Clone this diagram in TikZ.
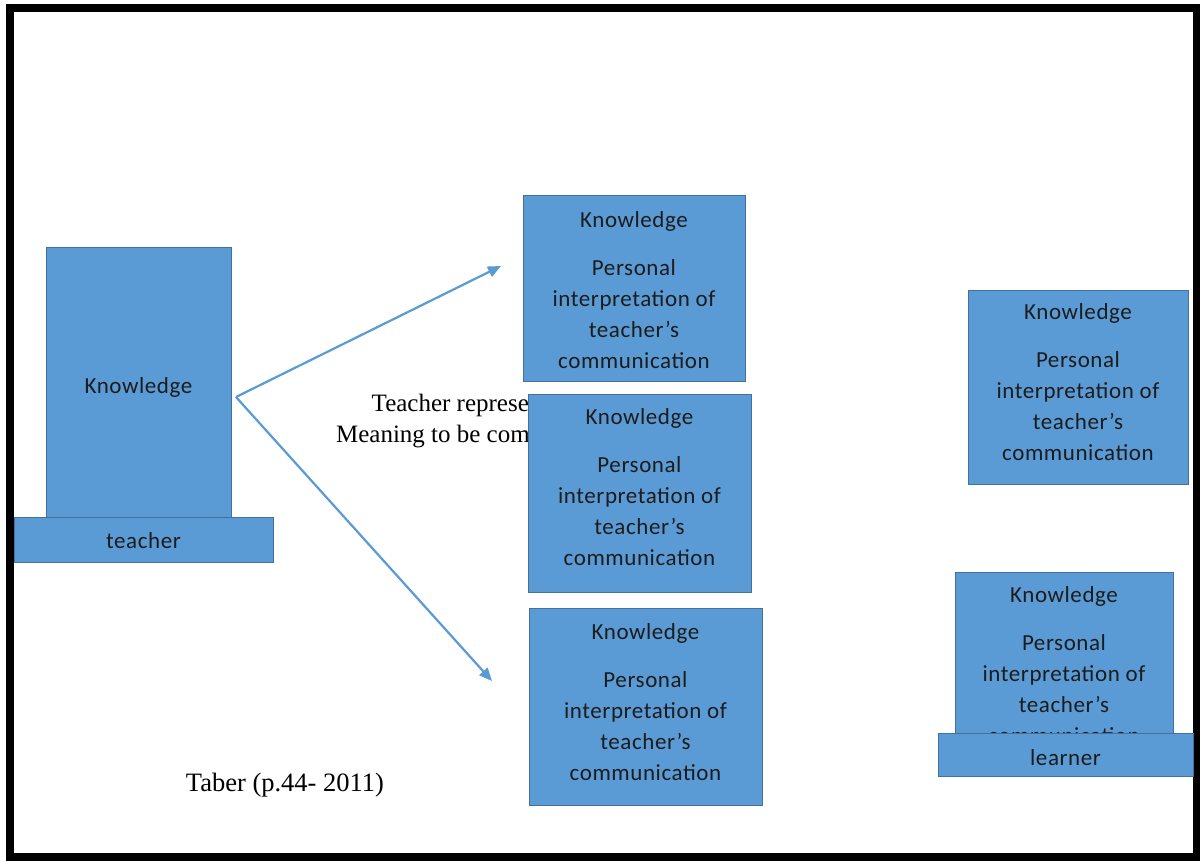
\documentclass[tikz,border=0pt]{standalone}
\usepackage{fontspec}
\setmainfont{Liberation Serif}
\newfontfamily\boxfont[LetterSpace=2.5]{Carlito}
\usetikzlibrary{arrows.meta}
\definecolor{boxblue}{HTML}{5B9BD5}
\definecolor{boxedge}{HTML}{41719C}
\definecolor{boxtext}{HTML}{1C1C1C}
\tikzset{
  bluebox/.style={draw=boxedge, line width=1pt, fill=boxblue, rectangle, inner sep=0pt},
  boxlabel/.style={inner sep=0pt, align=center, text=boxtext, font=\boxfont\fontsize{23}{31}\selectfont},
  flowarrow/.style={draw=boxblue, line width=2.2pt,
    -{Triangle[length=13pt,width=11pt]}},
  serifnote/.style={align=center, inner sep=0pt, font=\fontsize{25}{31}\selectfont, text=black}
}
\newcommand{\interp}{Knowledge\\[17pt]Personal\\interpretation of\\teacher’s\\communication}
\begin{document}
\begin{tikzpicture}[x=1pt,y=-1pt]
\useasboundingbox (0,0) rectangle (1200,860);
\fill[white] (0,0) rectangle (1200,860);
% frame
\draw[line width=8pt, black] (10,8) rectangle (1196.5,856.5);

% teacher
\node[bluebox, minimum width=185pt, minimum height=270pt] (tk) at (138.5,382) {};
\node[boxlabel] (tk-t) at (138.5,387) {Knowledge};
\node[bluebox, minimum width=259pt, minimum height=45pt] (tbase) at (143.5,539.5) {};
\node[boxlabel] (tbase-t) at (143.5,541) {teacher};

% occluded note
\node[serifnote] (note) at (485,421) {Teacher representation\\Meaning to be communicated};

% middle learners
\node[bluebox, minimum width=222pt, minimum height=186pt] (la) at (634,288) {};
\node[boxlabel, anchor=north] (la-t) at ([yshift=-16.5pt]la.north) {\interp};
\node[bluebox, minimum width=223pt, minimum height=198pt] (lb) at (639.5,493) {};
\node[boxlabel, anchor=north] (lb-t) at ([yshift=-15pt]lb.north) {\interp};
\node[bluebox, minimum width=233pt, minimum height=197pt] (lc) at (645.5,706.5) {};
\node[boxlabel, anchor=north] (lc-t) at ([yshift=-16pt]lc.north) {\interp};

% right learners
\node[bluebox, minimum width=220pt, minimum height=194pt] (ld) at (1078,387) {};
\node[boxlabel, anchor=north] (ld-t) at ([yshift=-14pt]ld.north) {\interp};
\node[bluebox, minimum width=218pt, minimum height=186pt] (le) at (1064,665) {};
\node[boxlabel, anchor=north] (le-t) at ([yshift=-15pt]le.north) {\interp};
\node[bluebox, minimum width=255pt, minimum height=43pt] (lbase) at (1065.5,754.5) {};
\node[boxlabel] (lbase-t) at (1065.5,757.5) {learner};

% arrows
\coordinate (src) at (236,397);
\coordinate (endA) at (501,266);
\coordinate (endC) at (492,681);
\draw[flowarrow] (src) -- (endA);
\draw[flowarrow] (src) -- (endC);

% citation
\node[serifnote, font=\fontsize{26.5}{31}\selectfont] (cite) at (285,785) {Taber (p.44- 2011)};
\end{tikzpicture}
\end{document}
